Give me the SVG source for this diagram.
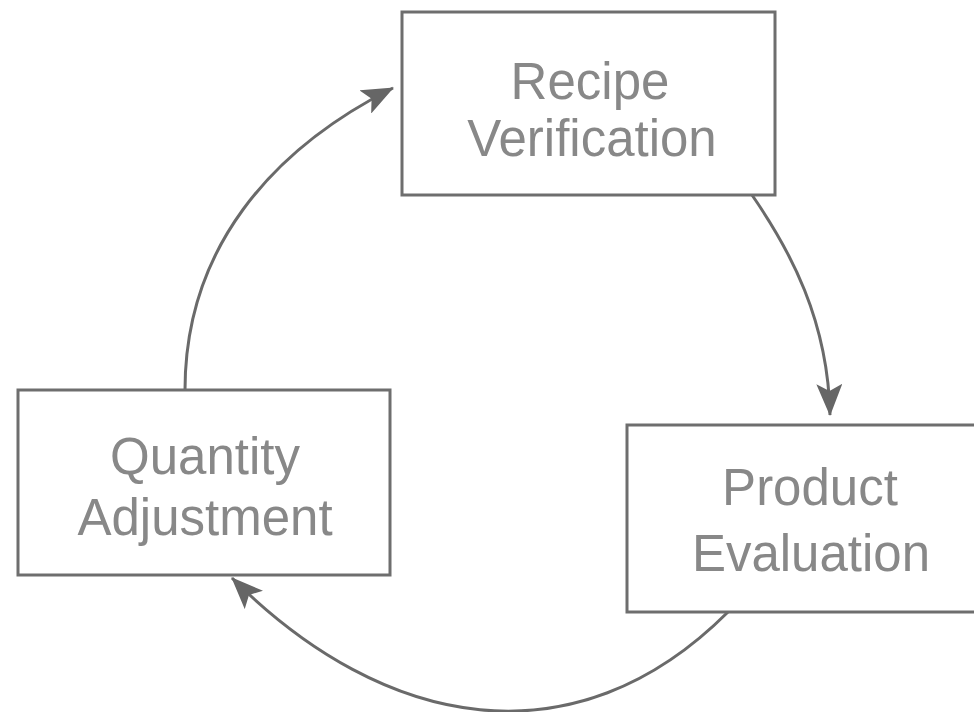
<svg xmlns="http://www.w3.org/2000/svg" width="974" height="712" viewBox="0 0 974 712">
<style>
.box{fill:#fff;stroke:#6e6e6e;stroke-width:3}
.lbl{font-family:"Liberation Sans",Arial,sans-serif;font-size:51px;fill:#888;text-anchor:middle}
.edge{fill:none;stroke:#6a6a6a;stroke-width:3}
</style>
<defs>
<marker id="arr" viewBox="0 0 32 26" refX="31" refY="13" markerWidth="32" markerHeight="26" markerUnits="userSpaceOnUse" orient="auto">
<path d="M0,0 L32,13 L0,26 L7,13 Z" fill="#666"/>
</marker>
</defs>
<rect width="974" height="712" fill="#fff"/>
<g id="connectors">
<path class="edge" d="M185,390 C185,250 270,150 393,88" marker-end="url(#arr)"/>
<path class="edge" d="M752,195 C790,250 828,320 830,415" marker-end="url(#arr)"/>
<path class="edge" d="M728,612 C575,765 385,731 232,578" marker-end="url(#arr)"/>
</g>
<g id="recipe-verification">
<rect class="box" x="402" y="12" width="373" height="183"/>
<text class="lbl" x="590" y="99">Recipe</text>
<text class="lbl" x="592" y="156">Verification</text>
</g>
<g id="product-evaluation">
<rect class="box" x="627" y="425" width="360" height="187"/>
<text class="lbl" x="810" y="505">Product</text>
<text class="lbl" x="811" y="571">Evaluation</text>
</g>
<g id="quantity-adjustment">
<rect class="box" x="18" y="390" width="372" height="185"/>
<text class="lbl" x="205" y="474">Quantity</text>
<text class="lbl" x="205" y="535">Adjustment</text>
</g>
</svg>
